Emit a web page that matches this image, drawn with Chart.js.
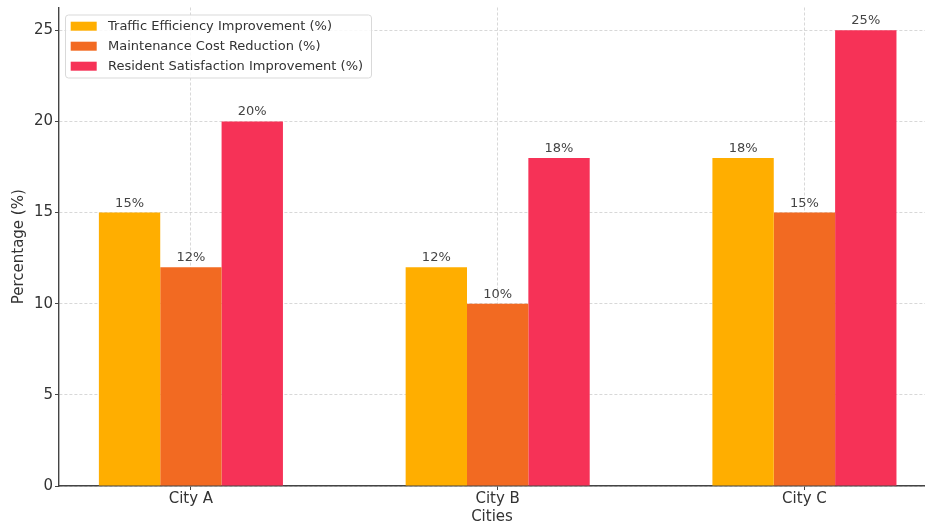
<!DOCTYPE html>
<html>
<head>
<meta charset="utf-8">
<script src="https://cdn.jsdelivr.net/npm/chart.js@4.4.1/dist/chart.umd.min.js"></script>
<style>
  html, body { margin: 0; padding: 0; background: #fff; overflow: hidden; }
  #wrap { width: 925px; height: 526px; position: relative; }
</style>
</head>
<body>
<div id="wrap"><canvas id="c" width="925" height="526"></canvas></div>
<script>
// Pilot results per city
const cities = ['City A', 'City B', 'City C'];
const seriesNames = [
  'Traffic Efficiency Improvement (%)',
  'Maintenance Cost Reduction (%)',
  'Resident Satisfaction Improvement (%)'
];
const trafficEfficiency = [15, 12, 18];
const maintenanceReduction = [12, 10, 15];
const residentSatisfaction = [20, 18, 25];
const yTicks = [0, 5, 10, 15, 20, 25];

const colors = ['#FFAE00', '#F26A22', '#F63257'];
const FONT = 'DejaVu Sans';

const seriesValues = [trafficEfficiency, maintenanceReduction, residentSatisfaction];
const datasets = seriesValues.map((vals, s) => ({
  label: seriesNames[s],
  data: vals.map((v, i) => ({ x: i, y: v })),
  backgroundColor: colors[s],
  borderWidth: 0,
  categoryPercentage: 0.6,
  barPercentage: 1.0
}));

// Percent labels above each bar
const valueLabels = {
  id: 'valueLabels',
  afterDatasetsDraw(chart) {
    const ctx = chart.ctx;
    ctx.save();
    ctx.font = '13px "' + FONT + '"';
    ctx.fillStyle = '#444';
    ctx.textAlign = 'center';
    ctx.textBaseline = 'alphabetic';
    chart.data.datasets.forEach((ds, di) => {
      chart.getDatasetMeta(di).data.forEach((bar, i) => {
        ctx.fillText(ds.data[i].y + '%', bar.x, bar.y - 6);
      });
    });
    ctx.restore();
  }
};

// Inset legend in the upper-left corner of the plot
const insetLegend = {
  id: 'insetLegend',
  afterDraw(chart) {
    const ctx = chart.ctx;
    const bx = 65.5, by = 15, bw = 306, bh = 63, r = 3;
    ctx.save();
    ctx.beginPath();
    ctx.roundRect(bx, by, bw, bh, r);
    ctx.fillStyle = 'rgba(255,255,255,0.85)';
    ctx.fill();
    ctx.strokeStyle = '#d9d9d9';
    ctx.lineWidth = 1;
    ctx.stroke();
    ctx.font = '13px "' + FONT + '"';
    ctx.textAlign = 'left';
    ctx.textBaseline = 'middle';
    chart.data.datasets.forEach((ds, i) => {
      const cy = 26.2 + i * 20;
      ctx.fillStyle = ds.backgroundColor;
      ctx.fillRect(70.7, cy - 4.5, 26, 9);
      ctx.fillStyle = '#333';
      ctx.fillText(ds.label, 108, cy + 0.5);
    });
    ctx.restore();
  }
};

const gridStyle = {
  color: 'rgba(190,190,190,0.75)',
  lineWidth: 0.8,
  offset: false,
  tickLength: 4,
  tickColor: '#444',
  tickWidth: 1,
  tickBorderDash: []
};
const borderStyle = { display: true, color: '#444', width: 1.4, dash: [3, 2] };

new Chart(document.getElementById('c'), {
  type: 'bar',
  data: { datasets },
  options: {
    responsive: false,
    animation: false,
    layout: { padding: { top: 7.5, left: 0, right: 0, bottom: 0 } },
    plugins: { legend: { display: false }, tooltip: { enabled: false } },
    scales: {
      x: {
        type: 'linear',
        offset: false,
        min: -0.43,
        max: 2.393,
        z: 1,
        afterBuildTicks: (s) => { s.ticks = cities.map((_, i) => ({ value: i })); },
        afterFit: (s) => { s.height = 40; s.paddingLeft = 0; s.paddingRight = 0; },
        ticks: {
          callback: (v) => cities[v],
          font: { family: FONT, size: 15 },
          color: '#333',
          padding: 0,
          maxRotation: 0,
          autoSkip: false
        },
        grid: gridStyle,
        border: borderStyle,
        title: {
          display: true,
          text: 'Cities',
          font: { family: FONT, size: 15 },
          color: '#333',
          padding: { top: 0, bottom: 0 }
        }
      },
      y: {
        min: 0,
        max: 26.25,
        afterBuildTicks: (s) => { s.ticks = yTicks.map(v => ({ value: v })); },
        afterFit: (s) => { s.width = 59; s.paddingTop = 0; s.paddingBottom = 0; },
        ticks: {
          font: { family: FONT, size: 15 },
          color: '#333',
          padding: 2
        },
        grid: gridStyle,
        border: borderStyle,
        title: {
          display: true,
          text: 'Percentage (%)',
          font: { family: FONT, size: 15 },
          color: '#333',
          padding: { top: 10, bottom: 0 }
        }
      }
    }
  },
  plugins: [valueLabels, insetLegend]
});
</script>
</body>
</html>
